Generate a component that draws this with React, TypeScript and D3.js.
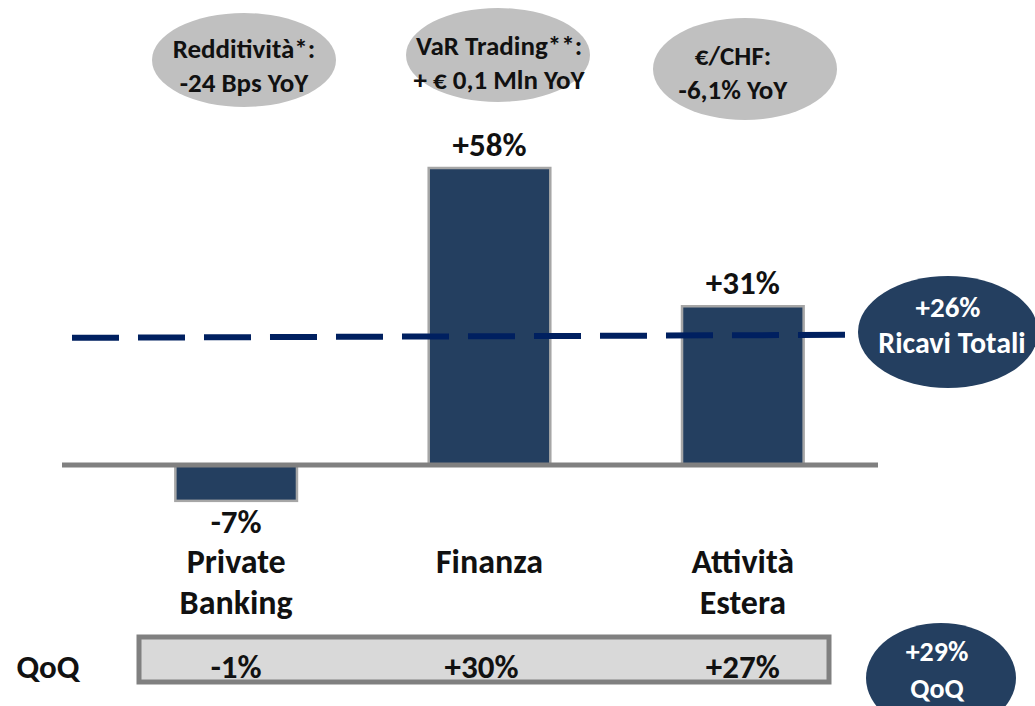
import React, { useEffect, useRef } from "react";
import * as d3 from "d3";

const categories = [["Private", "Banking"], ["Finanza"], ["Attività", "Estera"]];
const yoyValues = [-7, 58, 31];
const qoqValues = [-1, 30, 27];
const totalYoY = 26;
const totalQoQ = 29;
const bubbleNotes = [
  ["Redditività*:", "-24 Bps YoY"],
  ["VaR Trading**:", "+ € 0,1 Mln YoY"],
  ["€/CHF:", "-6,1% YoY"],
];

const W = 1035;
const H = 706;
const FONT = "Carlito, 'Liberation Sans Narrow', 'Open Sans', sans-serif";
const NAVY = "#243f60";

const fmt = (v: number) => (v > 0 ? "+" : "") + v + "%";

export default function App() {
  const ref = useRef<SVGSVGElement>(null);

  useEffect(() => {
    const svg = d3.select(ref.current);
    svg.selectAll("*").remove();

    const keys = categories.map((c) => c.join(" "));
    const x = d3.scaleBand().domain(keys).range([109.5, 869.5]).paddingInner(0.52).paddingOuter(0.26);
    const y = d3.scaleLinear().domain([0, 58]).range([465, 168]);

    const txt = (px: number, py: number, t: string, size: number, fill = "#111") =>
      svg.append("text").attr("x", px).attr("y", py).attr("text-anchor", "middle")
        .attr("font-family", FONT).attr("font-weight", "bold").attr("font-size", size)
        .attr("fill", fill).text(t);

    // top grey bubbles
    const bubbles = [
      { cx: 244, cy: 60, rx: 92, ry: 47, tx: 244, ty: 58 },
      { cx: 498, cy: 55, rx: 92, ry: 47, tx: 499, ty: 55 },
      { cx: 745, cy: 69, rx: 92, ry: 51, tx: 733, ty: 65 },
    ];
    bubbleNotes.forEach((lines, i) => {
      const b = bubbles[i];
      svg.append("ellipse").attr("cx", b.cx).attr("cy", b.cy).attr("rx", b.rx).attr("ry", b.ry).attr("fill", "#c0c0c0");
      lines.forEach((t, j) => txt(b.tx, b.ty + j * 34, t, 27));
    });

    // bars
    svg.selectAll("rect.bar").data(yoyValues).enter().append("rect").attr("class", "bar")
      .attr("x", (d, i) => x(keys[i])!)
      .attr("width", x.bandwidth())
      .attr("y", (d) => Math.min(y(d), y(0)))
      .attr("height", (d) => Math.abs(y(d) - y(0)))
      .attr("fill", NAVY).attr("stroke", "#a6a6a6").attr("stroke-width", 2.5);

    // baseline
    svg.append("line").attr("x1", 62).attr("x2", 878).attr("y1", y(0)).attr("y2", y(0))
      .attr("stroke", "#808080").attr("stroke-width", 5);

    // value labels
    yoyValues.forEach((v, i) => {
      const cx = x(keys[i])! + x.bandwidth() / 2;
      txt(cx, v >= 0 ? y(v) - 12 : y(v) + 32, fmt(v), 33);
    });

    // category labels
    categories.forEach((lines, i) => {
      const cx = x(keys[i])! + x.bandwidth() / 2;
      lines.forEach((t, j) => txt(cx, 573 + j * 41, t, 34));
    });

    // total dashed line
    svg.append("line").attr("x1", 72).attr("x2", 845).attr("y1", y(totalYoY) + 6).attr("y2", y(totalYoY) + 3)
      .attr("stroke", "#002060").attr("stroke-width", 6).attr("stroke-dasharray", "47 19");

    // total bubble
    svg.append("ellipse").attr("cx", 948).attr("cy", 332).attr("rx", 90).attr("ry", 56).attr("fill", NAVY);
    txt(948, 317, fmt(totalYoY), 29, "#fff");
    txt(952, 353, "Ricavi Totali", 30, "#fff");

    // QoQ row
    txt(48, 678, "QoQ", 33);
    svg.append("rect").attr("x", 139).attr("y", 637).attr("width", 690).attr("height", 45)
      .attr("fill", "#d9d9d9").attr("stroke", "#808080").attr("stroke-width", 5);
    qoqValues.forEach((v, i) => {
      const cx = x(keys[i])! + x.bandwidth() / 2 - (i == 1 ? 8 : 0);
      txt(cx, 678, fmt(v), 33);
    });

    svg.append("ellipse").attr("cx", 941).attr("cy", 678).attr("rx", 75).attr("ry", 55).attr("fill", NAVY);
    txt(937, 661, fmt(totalQoQ), 28, "#fff");
    txt(937, 698, "QoQ", 28, "#fff");
  }, []);

  return (
    <svg ref={ref} width={W} height={H}
      style={{ position: "absolute", left: 0, top: 0, display: "block", background: "#fff" }} />
  );
}
